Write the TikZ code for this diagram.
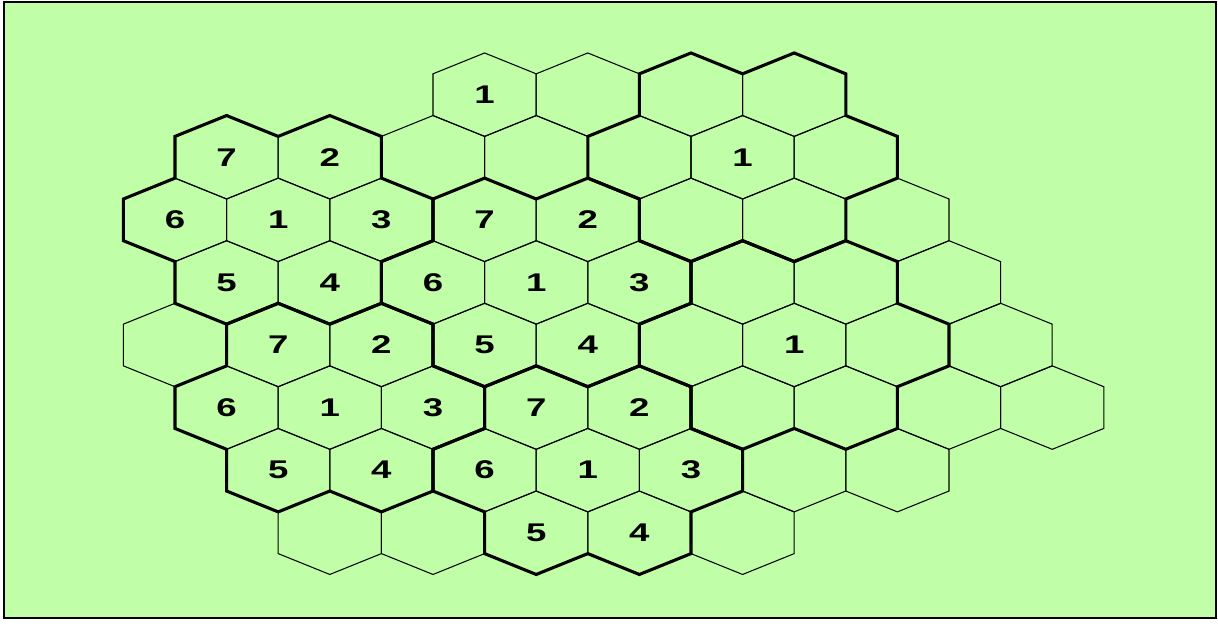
\documentclass[tikz,border=0pt]{standalone}
\usepackage{fontspec}
\setmainfont{Liberation Sans}
\definecolor{nenxanh}{RGB}{192,255,168}

\tikzset{
  hexline/.style={black,line width=0.75pt},
  cumline/.style={black,line width=2.2pt},
  so/.style={font=\fontsize{18.2}{20}\selectfont\bfseries,inner sep=0pt}
}
% o luc giac tai cot #1, hang #2
\newcommand{\hexcell}[2]{%
  \draw[hexline,shift={({#1},{-1.5*#2})}] (0,1) -- (1,0.5) -- (1,-0.5) -- (0,-1) -- (-1,-0.5) -- (-1,0.5) -- cycle;}
% vien dam cua cum 7 o, tam tai cot #1, hang #2
\newcommand{\cumcell}[2]{%
  \draw[cumline,shift={({#1},{-1.5*#2})}] (-1,2.5) -- (0,2) -- (1,2.5) -- (2,2) -- (2,1) -- (3,0.5) -- (3,-0.5) -- (2,-1) -- (2,-2) -- (1,-2.5) -- (0,-2) -- (-1,-2.5) -- (-2,-2) -- (-2,-1) -- (-3,-0.5) -- (-3,0.5) -- (-2,1) -- (-2,2) -- cycle;}
\newcommand{\giandai}[1]{\scalebox{1.43}[1]{#1}}

\begin{document}
\begin{tikzpicture}
    \useasboundingbox (0,0) rectangle (30.45,15.6);
    % Nen xanh va khung
    \draw[fill=nenxanh,line width=2pt] (0.1,0.15) rectangle (30.4,15.55);

    \begin{scope}[shift={(4.375cm,13.2325cm)},x=1.29cm,y=1.043cm]
    % Ve luoi luc giac
    \foreach \r/\tu/\den in {0/6/12, 1/1/13, 2/0/14, 3/1/15, 4/0/16, 5/1/17, 6/2/14, 7/3/11}{
        \pgfmathtruncatemacro\ke{\tu+2}
        \foreach \k in {\tu,\ke,...,\den}
            \hexcell{\k}{\r};
    }

    % Ve vien cac cum 7 o
    \foreach \k/\r in {2/2, 7/3, 3/5, 8/6, 11/1, 12/4}
        \cumcell{\k}{\r};

    % Danh so cac o
    \foreach \k/\r/\n in {6/0/1,
        1/1/7, 3/1/2, 11/1/1,
        0/2/6, 2/2/1, 4/2/3, 6/2/7, 8/2/2,
        1/3/5, 3/3/4, 5/3/6, 7/3/1, 9/3/3,
        2/4/7, 4/4/2, 6/4/5, 8/4/4, 12/4/1,
        1/5/6, 3/5/1, 5/5/3, 7/5/7, 9/5/2,
        2/6/5, 4/6/4, 6/6/6, 8/6/1, 10/6/3,
        7/7/5, 9/7/4}
    \node[so] (o\k-\r) at (\k,{-1.5*\r}) {\giandai{\n}};
    \end{scope}
\end{tikzpicture}
\end{document}
